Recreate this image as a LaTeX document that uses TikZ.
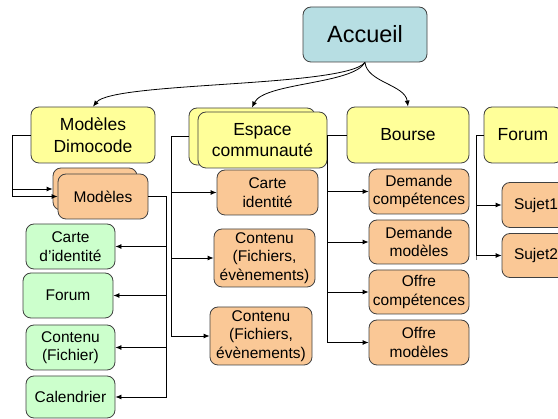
\documentclass[tikz,border=0pt]{standalone}
\usepackage{fontspec}
\setmainfont{Liberation Sans}
\usetikzlibrary{arrows.meta}
\definecolor{accblue}{HTML}{B7DEE3}
\definecolor{yel}{HTML}{FFFF99}
\definecolor{peach}{HTML}{FAC896}
\definecolor{mint}{HTML}{CCFFCC}
\definecolor{boxline}{HTML}{404040}

\begin{document}
\begin{tikzpicture}[x=1pt,y=-1pt,
  box/.style={draw=boxline,line width=0.8pt,rounded corners=8pt,align=center,inner sep=0pt},
  top/.style={box,fill=yel,font=\fontsize{17.5}{21.5}\selectfont},
  sub/.style={box,fill=peach,font=\fontsize{15.5}{18.5}\selectfont},
  leaf/.style={box,fill=mint,font=\fontsize{15.5}{18.5}\selectfont},
  arr/.style={-{Latex[length=6pt,width=5pt]},line width=0.8pt}]
\useasboundingbox (0,0) rectangle (558,419);

% Home
\node[box,fill=accblue,font=\fontsize{23.5}{28}\selectfont,minimum width=124pt,minimum height=55pt] (acc) at (365,34.5) {Accueil};

% First level
\node[top,minimum width=124pt,minimum height=56pt] (mdim) at (93,135) {Modèles\\Dimocode};
\node[top,minimum width=126pt,minimum height=57pt] (espb) at (252,136.5) {};
\node[top,minimum width=129pt,minimum height=56pt] (esp) at (262.5,140) {Espace\\communauté};
\node[top,minimum width=122pt,minimum height=56pt] (bourse) at (408,135) {Bourse};
\node[top,minimum width=78pt,minimum height=56pt] (forum) at (523,135) {Forum};

% Modeles
\node[sub,minimum width=84pt,minimum height=42pt] (modb) at (95,189) {};
\node[sub,minimum width=90pt,minimum height=45pt] (mod) at (103,196.5) {Modèles};
\node[leaf,minimum width=89pt,minimum height=45pt] (cid) at (70.5,246.5) {Carte\\d’identité};
\node[leaf,minimum width=90pt,minimum height=45pt] (forg) at (68,295.5) {Forum};
\node[leaf,minimum width=89pt,minimum height=45pt] (cfich) at (70.5,347.5) {Contenu\\(Fichier)};
\node[leaf,minimum width=89pt,minimum height=42pt] (cal) at (70.5,397) {Calendrier};

% Espace communaute
\node[sub,minimum width=101pt,minimum height=45pt] (ecarte) at (267.5,192.5) {Carte\\identité};
\node[sub,minimum width=101pt,minimum height=58pt] (econt1) at (264.5,258) {Contenu\\(Fichiers,\\évènements)};
\node[sub,minimum width=102pt,minimum height=58pt] (econt2) at (261,336) {Contenu\\(Fichiers,\\évènements)};

% Bourse
\node[sub,minimum width=100pt,minimum height=45pt] (dcomp) at (419,191.5) {Demande\\compétences};
\node[sub,minimum width=100pt,minimum height=44pt] (dmod) at (419,242) {Demande\\modèles};
\node[sub,minimum width=100pt,minimum height=44pt] (ocomp) at (419,292) {Offre\\compétences};
\node[sub,minimum width=100pt,minimum height=45pt] (omod) at (419,342.5) {Offre\\modèles};

% Forum
\node[sub,minimum width=68pt,minimum height=45pt] (suj1) at (536,205) {Sujet1};
\node[sub,minimum width=68pt,minimum height=44pt] (suj2) at (536,255.5) {Sujet2};

% Arrows
\draw[arr] (acc.south) .. controls +(-20,25) and +(20,-25) .. (mdim.north);
\draw[arr] (acc.south) .. controls +(-12,22) and +(12,-25) .. (espb.north);
\draw[arr] (acc.south) .. controls +(2,20) and +(-3,-22) .. (bourse.north);

\draw[arr] (mdim.west) -- ++(-18,0) |- (modb.west);
\draw[arr] (mdim.west) -- ++(-18,0) |- (mod.west);
\foreach \n in {cid,forg,cfich,cal}
  \draw[arr] (mod.east) -- ++(18,0) |- (\n.east);

\foreach \n in {ecarte,econt1,econt2}
  \draw[arr] (espb.west) -- ++(-17,0) |- (\n.west);

\foreach \n in {dcomp,dmod,ocomp,omod}
  \draw[arr] (bourse.west) -- ++(-19,0) |- (\n.west);

\draw[line width=0.8pt,gray] (forum.west) -- ++(-7,0) -- ++(0,125);
\foreach \n in {suj1,suj2}
  \draw[arr] (forum.west) -- ++(-7,0) |- (\n.west);
\end{tikzpicture}
\end{document}
